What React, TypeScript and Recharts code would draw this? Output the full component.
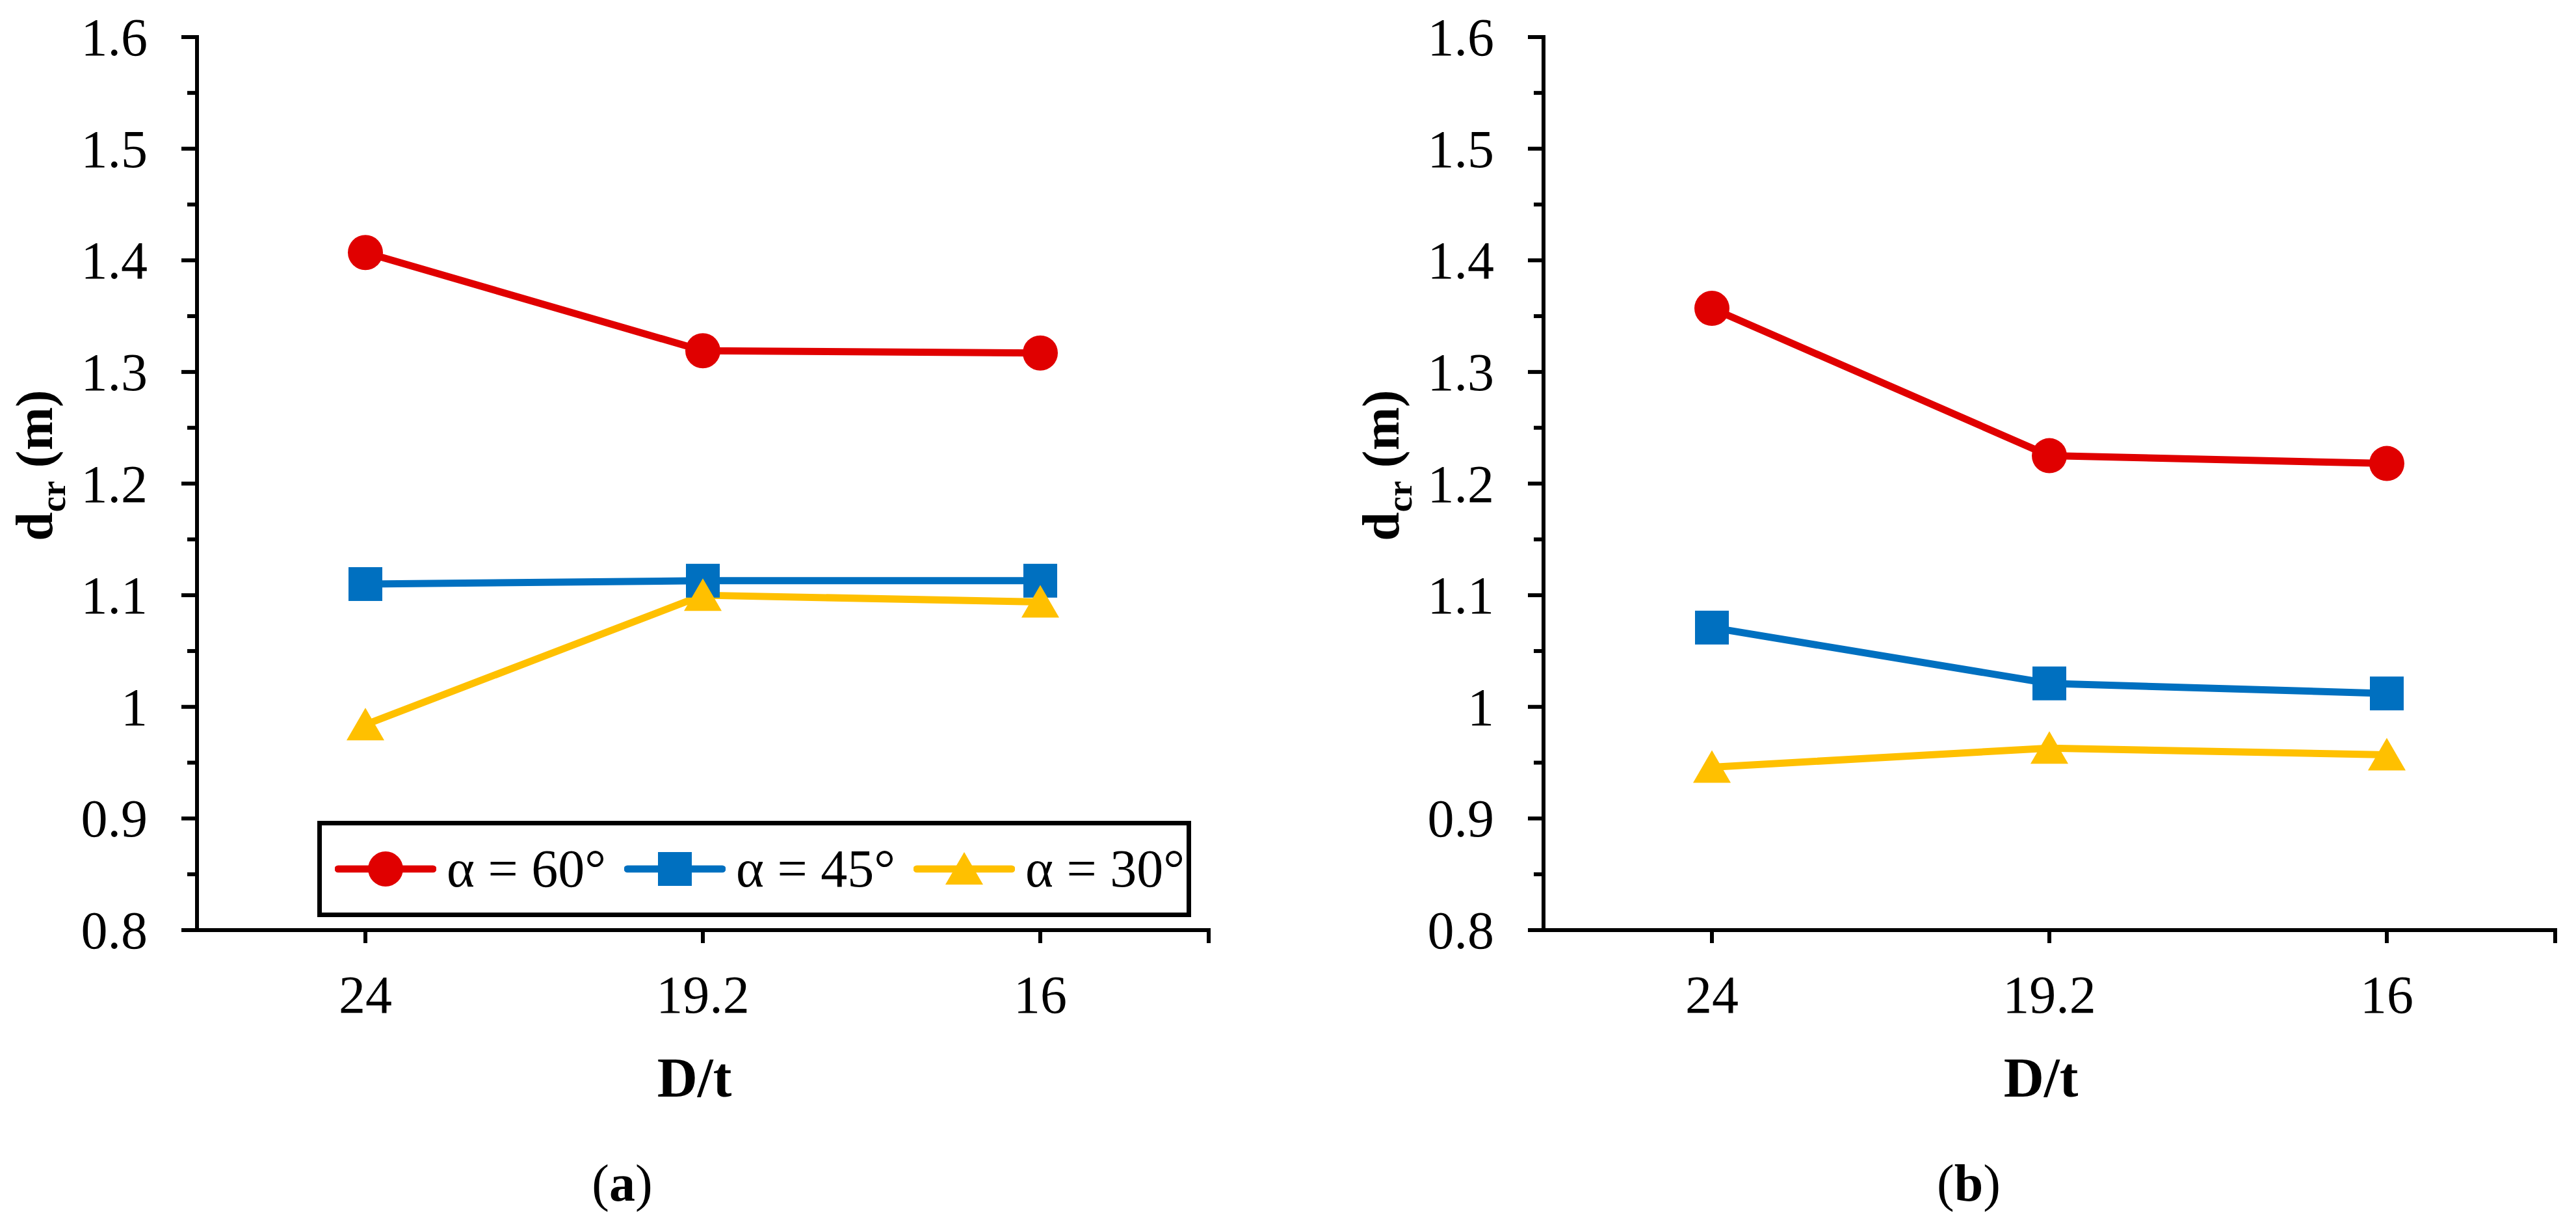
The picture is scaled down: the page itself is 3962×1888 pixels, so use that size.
import { LineChart, Line, XAxis, YAxis, Legend } from 'recharts'

// D/t categories shared by both panels
const categories = ['24', '19.2', '16']

// panel (a)
const leftAlpha60 = [1.407, 1.319, 1.317]
const leftAlpha45 = [1.11, 1.113, 1.113]
const leftAlpha30 = [0.984, 1.1, 1.094]

// panel (b)
const rightAlpha60 = [1.357, 1.225, 1.218]
const rightAlpha45 = [1.071, 1.021, 1.012]
const rightAlpha30 = [0.946, 0.963, 0.957]

// every 0.05 gets a tick, every 0.1 gets a label
const yTicks = [0.8, 0.85, 0.9, 0.95, 1, 1.05, 1.1, 1.15, 1.2, 1.25, 1.3, 1.35, 1.4, 1.45, 1.5, 1.55, 1.6]

const seriesNames = ['α = 60°', 'α = 45°', 'α = 30°']

const FONT = '"Liberation Serif", "Times New Roman", serif'
const AXIS = { stroke: '#000', strokeWidth: 6, strokeLinecap: 'square' as const }
const HALF_BAND = 259

const SERIES = [
    { key: 'a60', name: seriesNames[0], color: '#E00000', marker: 'circle' },
    { key: 'a45', name: seriesNames[1], color: '#0070C0', marker: 'square' },
    { key: 'a30', name: seriesNames[2], color: '#FFC000', marker: 'triangle' },
]

function buildRows(a60: number[], a45: number[], a30: number[]) {
    return categories.map((dt, i) => ({ dt, a60: a60[i], a45: a45[i], a30: a30[i] }))
}

const leftData = buildRows(leftAlpha60, leftAlpha45, leftAlpha30)
const rightData = buildRows(rightAlpha60, rightAlpha45, rightAlpha30)

function Marker({ kind, cx, cy, color }: { kind: string; cx: number; cy: number; color: string }) {
    if (kind === 'circle') return <circle cx={cx} cy={cy} r={27} fill={color} />
    if (kind === 'square') return <rect x={cx - 26} y={cy - 26} width={52} height={52} fill={color} />
    return <polygon points={`${cx},${cy - 26} ${cx + 29},${cy + 24} ${cx - 29},${cy + 24}`} fill={color} />
}

function YTick(props: any) {
    const { x, y, payload } = props
    const major = Math.round(payload.value * 100) % 10 === 0
    return (
        <g>
            <line x1={x - (major ? 24 : 15)} x2={x} y1={y} y2={y} stroke="#000" strokeWidth={6} />
            {major && (
                <text x={x - 76} y={y + 28} textAnchor="end" fontSize={82} fontFamily={FONT} fill="#000">
                    {String(payload.value)}
                </text>
            )}
        </g>
    )
}

function XTick(props: any) {
    const { x, y, payload, index } = props
    return (
        <g>
            <line x1={x} x2={x} y1={y} y2={y + 20} stroke="#000" strokeWidth={6} />
            {index === categories.length - 1 && (
                <line x1={x + HALF_BAND} x2={x + HALF_BAND} y1={y} y2={y + 20} stroke="#000" strokeWidth={6} />
            )}
            <text x={x} y={y + 127} textAnchor="middle" fontSize={82} fontFamily={FONT} fill="#000">
                {payload.value}
            </text>
        </g>
    )
}

function yTitle(props: any) {
    const { viewBox } = props
    const cx = 80
    const cy = viewBox.y + viewBox.height / 2 - 28
    return (
        <text
            x={cx}
            y={cy}
            transform={`rotate(-90 ${cx} ${cy})`}
            textAnchor="middle"
            fontSize={80}
            fontWeight="bold"
            fontFamily={FONT}
            fill="#000"
        >
            d<tspan dy={20} fontSize={54}>cr</tspan>
            <tspan dy={-20}> (m)</tspan>
        </text>
    )
}

const xTitle = (caption: string) => (props: any) => {
    const { viewBox } = props
    const cx = viewBox.x + viewBox.width / 2
    return (
        <g>
            <text x={cx - 13} y={viewBox.y + 256} textAnchor="middle" fontSize={86} fontWeight="bold" fontFamily={FONT} fill="#000">
                D/t
            </text>
            <text x={cx - 124} y={viewBox.y + 416} textAnchor="middle" fontSize={80} fontFamily={FONT} fill="#000">
                (<tspan fontWeight="bold">{caption}</tspan>)
            </text>
        </g>
    )
}

function LegendBox() {
    return (
        <div
            style={{
                boxSizing: 'border-box',
                width: 1344,
                height: 148,
                border: '7px solid #000',
                background: '#fff',
                display: 'flex',
                alignItems: 'center',
                paddingLeft: 20,
                fontFamily: FONT,
            }}
        >
            {SERIES.map((s) => (
                <div key={s.key} style={{ display: 'flex', alignItems: 'center', width: 445, flex: 'none' }}>
                    <svg width={156} height={60} style={{ display: 'block', flex: 'none' }}>
                        <line x1={5} x2={151} y1={30} y2={30} stroke={s.color} strokeWidth={11} strokeLinecap="round" />
                        <Marker kind={s.marker} cx={78} cy={30} color={s.color} />
                    </svg>
                    <span style={{ marginLeft: 16, fontSize: 82, lineHeight: 1, whiteSpace: 'nowrap', color: '#000' }}>
                        {s.name}
                    </span>
                </div>
            ))}
        </div>
    )
}

function Panel({ data, caption, showLegend }: { data: any[]; caption: string; showLegend: boolean }) {
    return (
        <LineChart width={1891} height={1888} data={data} margin={{ top: 57, right: 32, bottom: 0, left: 0 }}>
            <XAxis
                dataKey="dt"
                height={458}
                padding={{ left: HALF_BAND, right: HALF_BAND }}
                axisLine={AXIS}
                tickLine={false}
                tickSize={0}
                tickMargin={0}
                interval={0}
                tick={<XTick />}
                label={xTitle(caption)}
            />
            <XAxis
                xAxisId="top"
                dataKey="dt"
                orientation="top"
                height={0}
                padding={{ left: HALF_BAND, right: HALF_BAND }}
                axisLine={AXIS}
                tickLine={false}
                tick={false}
            />
            <YAxis
                width={303}
                domain={[0.8, 1.6]}
                ticks={yTicks}
                interval={0}
                allowDataOverflow
                axisLine={AXIS}
                tickLine={false}
                tickSize={0}
                tickMargin={0}
                tick={<YTick />}
                label={yTitle}
            />
            <YAxis
                yAxisId="right"
                orientation="right"
                width={0}
                domain={[0.8, 1.6]}
                axisLine={AXIS}
                tickLine={false}
                tick={false}
            />
            {SERIES.map((s) => (
                <Line
                    key={s.key}
                    dataKey={s.key}
                    name={s.name}
                    stroke={s.color}
                    strokeWidth={11}
                    strokeLinejoin="round"
                    isAnimationActive={false}
                    activeDot={false}
                    dot={(p: any) => <Marker key={`${s.key}-${p.index}`} kind={s.marker} cx={p.cx} cy={p.cy} color={s.color} />}
                />
            ))}
            {showLegend && (
                <Legend
                    layout="horizontal"
                    verticalAlign="middle"
                    align="center"
                    wrapperStyle={{ left: 488, top: 1262, width: 1344, height: 148 }}
                    content={<LegendBox />}
                />
            )}
        </LineChart>
    )
}

export default function App() {
    return (
        <div style={{ position: 'absolute', left: 0, top: 0, width: 3962, height: 1888, background: '#fff' }}>
            <div style={{ position: 'absolute', left: 0, top: 0 }}>
                <Panel data={leftData} caption="a" showLegend />
            </div>
            <div style={{ position: 'absolute', left: 2071, top: 0 }}>
                <Panel data={rightData} caption="b" showLegend={false} />
            </div>
        </div>
    )
}
